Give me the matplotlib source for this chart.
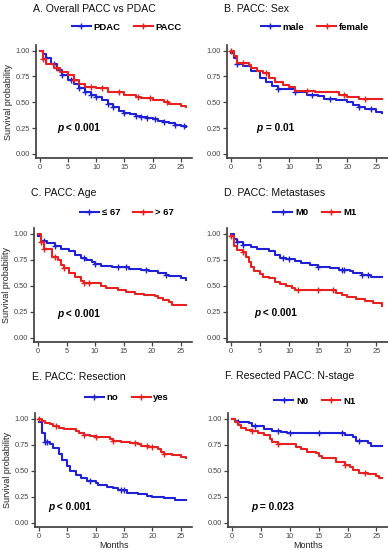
import numpy as np
import matplotlib
matplotlib.use('Agg')
import matplotlib.pyplot as plt
from matplotlib.lines import Line2D

plt.rcParams['font.family'] = ['Liberation Sans', 'DejaVu Sans']

BLUE = '#2020d4'
RED = '#e82020'

# ---- step curves (time in months, survival probability) ----
# A. Overall PACC vs PDAC
a_pdac_t = [0, 0.5, 1, 2, 3, 4, 5, 6, 7, 8, 9, 10, 11, 12, 13, 14, 15, 16, 17, 18, 19, 20, 21, 22, 23, 24, 25, 26]
a_pdac_s = [1.0, 0.97, 0.93, 0.87, 0.81, 0.76, 0.72, 0.68, 0.64, 0.60, 0.57, 0.55, 0.52, 0.48, 0.45, 0.42, 0.40, 0.39, 0.37, 0.36, 0.35, 0.34, 0.32, 0.31, 0.30, 0.28, 0.27, 0.26]
a_pdac_c = [1, 2.5, 4, 5.5, 7, 8, 9, 10, 12, 13, 15, 17, 18, 19, 20.5, 22, 24, 25.5]
a_pacc_t = [0, 0.5, 1, 2.5, 3.5, 5, 6, 7, 8, 10, 12, 15, 17, 18, 20, 22, 23, 25, 26]
a_pacc_s = [1.0, 0.92, 0.87, 0.83, 0.79, 0.76, 0.72, 0.68, 0.65, 0.635, 0.60, 0.57, 0.555, 0.545, 0.52, 0.50, 0.48, 0.46, 0.45]
a_pacc_c = [0.5, 3, 6, 9, 11, 14, 17.5, 19.5, 22.5]

# B. PACC: Sex
b_male_t = [0, 0.5, 1, 2, 3.5, 5, 6, 7, 8, 10, 11, 13, 15, 16, 18, 20, 21, 22, 23, 25, 26]
b_male_s = [0.98, 0.93, 0.87, 0.85, 0.80, 0.74, 0.70, 0.66, 0.63, 0.63, 0.60, 0.57, 0.56, 0.53, 0.52, 0.50, 0.47, 0.45, 0.43, 0.41, 0.40]
b_male_c = [1, 8, 11, 14, 17, 22, 24]
b_fem_t = [0, 0.5, 1, 3, 3.5, 4.5, 5.5, 6.5, 7.5, 9, 10, 11, 14.5, 18.5, 20, 22, 26]
b_fem_s = [1.0, 0.95, 0.88, 0.86, 0.83, 0.80, 0.78, 0.74, 0.70, 0.67, 0.65, 0.61, 0.60, 0.57, 0.55, 0.53, 0.53]
b_fem_c = [0, 2, 6, 13, 19.5, 23]

# C. PACC: Age
c_le67_t = [0, 0.5, 1.5, 3, 4, 5.5, 6.5, 7.5, 8.5, 9.5, 10, 11, 13, 16, 18, 19.5, 21, 22.5, 23, 25, 26]
c_le67_s = [0.98, 0.93, 0.91, 0.88, 0.85, 0.83, 0.80, 0.77, 0.75, 0.73, 0.71, 0.69, 0.68, 0.66, 0.65, 0.64, 0.62, 0.60, 0.59, 0.57, 0.56]
c_le67_c = [1, 3, 8, 10, 14, 15.5, 19, 22.5]
c_gt67_t = [0, 0.5, 1, 2.5, 3.5, 4, 4.5, 5.5, 6.5, 7.5, 8, 11, 12, 14, 15.5, 17, 18.5, 20.5, 21, 22, 23, 23.5, 26]
c_gt67_s = [1.0, 0.92, 0.85, 0.78, 0.75, 0.70, 0.67, 0.62, 0.58, 0.55, 0.53, 0.50, 0.48, 0.46, 0.44, 0.42, 0.41, 0.40, 0.38, 0.36, 0.34, 0.32, 0.32]
c_gt67_c = [0.5, 1, 3, 4.5, 8, 9]

# D. PACC: Metastases
d_m0_t = [0, 0.5, 1, 2, 3.5, 4.5, 6.5, 7.5, 8.5, 9.5, 11, 12, 13.5, 15, 17, 18.5, 20.5, 21, 22.5, 24, 26]
d_m0_s = [1.0, 0.95, 0.92, 0.89, 0.87, 0.85, 0.83, 0.80, 0.77, 0.76, 0.74, 0.72, 0.70, 0.68, 0.67, 0.65, 0.64, 0.62, 0.60, 0.58, 0.58]
d_m0_c = [1, 2, 9, 10, 15, 19, 19.5, 22.5, 23.5]
d_m1_t = [0, 0.5, 1, 2, 2.5, 3, 3.5, 4, 5, 5.5, 6.5, 7.5, 8.5, 9.5, 10.5, 11, 18, 19, 20, 21.5, 23, 24.5, 26]
d_m1_s = [0.98, 0.88, 0.84, 0.82, 0.78, 0.73, 0.68, 0.64, 0.61, 0.58, 0.57, 0.54, 0.52, 0.50, 0.48, 0.46, 0.43, 0.41, 0.39, 0.37, 0.35, 0.33, 0.31]
d_m1_c = [0, 2, 11.5, 15, 17.5]

# E. PACC: Resection
e_no_t = [0, 0.5, 1, 2, 2.5, 3.5, 4, 5, 5.5, 6.5, 7.5, 8.5, 10, 10.5, 12, 13, 14, 15.5, 17.5, 19, 20, 22, 24, 26]
e_no_s = [0.97, 0.86, 0.78, 0.76, 0.72, 0.66, 0.60, 0.55, 0.50, 0.46, 0.43, 0.40, 0.38, 0.36, 0.34, 0.33, 0.32, 0.29, 0.28, 0.26, 0.25, 0.24, 0.22, 0.22]
e_no_c = [1, 1.5, 9, 14.5, 15]
e_yes_t = [0, 0.5, 1, 2, 2.5, 3.5, 4.5, 6.5, 7, 8, 9, 10, 12.5, 13, 14.5, 16, 17.5, 18, 19.5, 21, 21.5, 22, 23.5, 25, 26]
e_yes_s = [1.0, 0.98, 0.96, 0.95, 0.93, 0.91, 0.90, 0.88, 0.86, 0.84, 0.83, 0.82, 0.81, 0.79, 0.78, 0.77, 0.76, 0.74, 0.73, 0.71, 0.68, 0.66, 0.65, 0.63, 0.62]
e_yes_c = [0, 3, 8, 10, 13, 17, 19, 20, 22]

# F. Resected PACC: N-stage
f_n0_t = [0, 0.5, 1, 3, 3.5, 5.5, 7, 8.5, 9.5, 19.5, 21, 21.5, 23.5, 24, 26]
f_n0_s = [1.0, 0.98, 0.97, 0.96, 0.93, 0.90, 0.88, 0.87, 0.86, 0.84, 0.82, 0.79, 0.77, 0.74, 0.74]
f_n0_c = [1, 4, 8, 10, 15, 19, 22]
f_n1_t = [0, 0.5, 1, 1.5, 2.5, 3.5, 4.5, 5.5, 6.5, 7, 8, 11, 12, 13, 14.5, 15, 15.5, 18, 19.5, 20.5, 21, 22, 23.5, 25, 25.5, 26]
f_n1_s = [1.0, 0.97, 0.94, 0.91, 0.89, 0.88, 0.86, 0.84, 0.81, 0.78, 0.76, 0.73, 0.71, 0.68, 0.67, 0.64, 0.62, 0.58, 0.56, 0.54, 0.51, 0.48, 0.47, 0.45, 0.43, 0.43]
f_n1_c = [3.5, 8, 19.5, 23]

titles = ['A. Overall PACC vs PDAC', 'B. PACC: Sex', 'C. PACC: Age',
          'D. PACC: Metastases', 'E. PACC: Resection', 'F. Resected PACC: N-stage']
labels = [('PDAC', 'PACC'), ('male', 'female'), ('\u2264 67', '> 67'),
          ('M0', 'M1'), ('no', 'yes'), ('N0', 'N1')]
pvals = ['< 0.001', '= 0.01', '< 0.001', '< 0.001', '< 0.001', '= 0.023']
p_pos = [(3.0, 0.25), (4.4, 0.25), (3.3, 0.23), (4.0, 0.24), (1.6, 0.15), (3.3, 0.15)]

curves = [
    ((a_pdac_t, a_pdac_s, a_pdac_c), (a_pacc_t, a_pacc_s, a_pacc_c)),
    ((b_male_t, b_male_s, b_male_c), (b_fem_t, b_fem_s, b_fem_c)),
    ((c_le67_t, c_le67_s, c_le67_c), (c_gt67_t, c_gt67_s, c_gt67_c)),
    ((d_m0_t, d_m0_s, d_m0_c), (d_m1_t, d_m1_s, d_m1_c)),
    ((e_no_t, e_no_s, e_no_c), (e_yes_t, e_yes_s, e_yes_c)),
    ((f_n0_t, f_n0_s, f_n0_c), (f_n1_t, f_n1_s, f_n1_c)),
]

W, H = 388, 550
fig = plt.figure(figsize=(W / 100, H / 100), dpi=100)

# pixel boxes: left, top, right, bottom
boxes = [(36, 45, 192, 158), (227, 45, 388, 158),
         (34, 228, 192, 342), (227, 228, 388, 342),
         (35, 413, 192, 527), (228, 413, 388, 527)]
title_y = [9, 9, 193, 193, 377, 376]
legend_y = [27, 27, 213, 213, 398, 401]
legend_x = [127, 315, 127, 315, 127, 315]


def step_value(t, s, x):
    i = np.searchsorted(t, x, side='right') - 1
    return np.asarray(s)[max(i, 0)]


for k in range(6):
    l, t, r, b = boxes[k]
    ax = fig.add_axes([l / W, 1 - b / H, (r - l) / W, (b - t) / H])
    for (tt, ss, cc), col in zip(curves[k], [BLUE, RED]):
        tt = np.asarray(tt, float)
        ax.step(tt, ss, where='post', color=col, lw=1.5)
        cy = [step_value(tt, ss, c) for c in cc]
        ax.plot(cc, cy, ls='none', marker='+', ms=5, mew=1.0, color=col)
    ax.set_xlim(-0.7, 27.0)
    ax.set_ylim(-0.04, 1.055)
    ax.set_xticks([0, 5, 10, 15, 20, 25])
    ax.set_yticks([0, 0.25, 0.5, 0.75, 1.0])
    ax.set_yticklabels(['0.00', '0.25', '0.50', '0.75', '1.00'])
    ax.tick_params(labelsize=5.3, colors='#444444', length=2.8, width=0.9, pad=1.5)
    for sp in ['top', 'right']:
        ax.spines[sp].set_visible(False)
    for sp in ['left', 'bottom']:
        ax.spines[sp].set_color('#3a3a3a')
        ax.spines[sp].set_linewidth(1.2)
    if k % 2 == 0:
        ax.set_ylabel('Survival probability', fontsize=6.5, labelpad=2, color='#222222')
    if k >= 4:
        ax.set_xlabel('Months', fontsize=6.5, labelpad=0.5, color='#222222')

    px, py = p_pos[k]
    pt = ax.text(px, py, 'p', style='italic', weight='bold', fontsize=7.3,
                 va='center', ha='left')
    ax.annotate(' ' + pvals[k], xy=(1, 0.5), xycoords=pt, va='center', ha='left',
                weight='bold', fontsize=7.3)

    fig.text((l - 3) / W, 1 - title_y[k] / H, titles[k], fontsize=7.6,
             va='center', ha='left', color='#111111')

    handles = [Line2D([], [], color=BLUE, lw=1.5, marker='+', ms=5, mew=1.0),
               Line2D([], [], color=RED, lw=1.5, marker='+', ms=5, mew=1.0)]
    fig.legend(handles, labels[k], loc='center',
               bbox_to_anchor=(legend_x[k] / W, 1 - legend_y[k] / H),
               ncol=2, frameon=False, handlelength=2.0, handletextpad=0.3,
               columnspacing=1.4, prop={'weight': 'bold', 'size': 6.8})

fig.savefig('out.png', dpi=100)
